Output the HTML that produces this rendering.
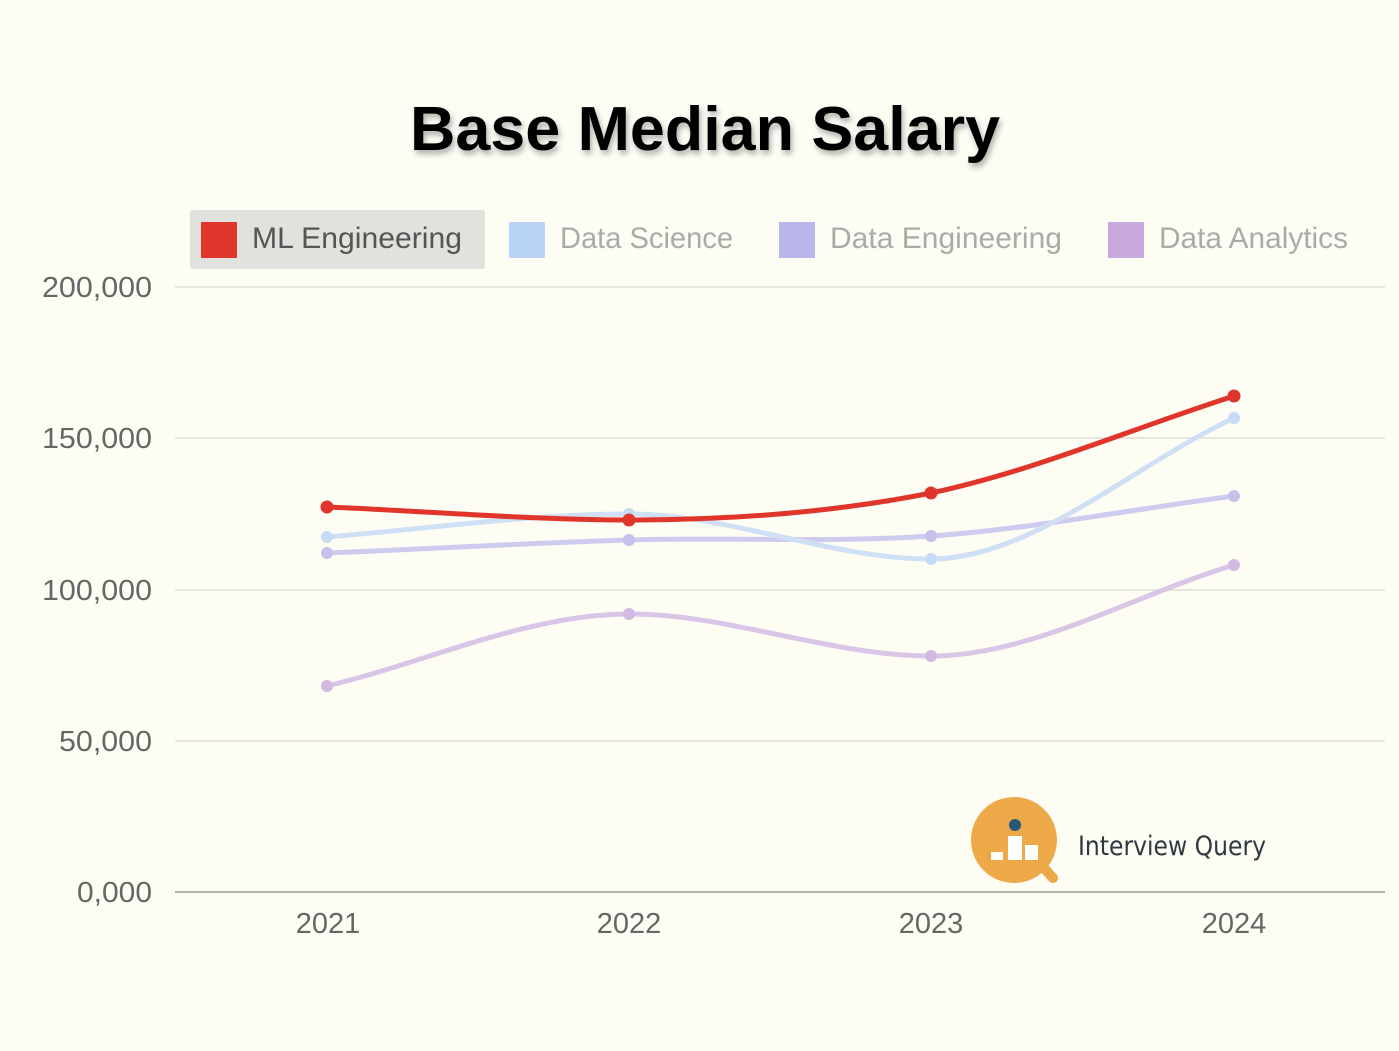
<!DOCTYPE html>
<html><head><meta charset="utf-8"><style>
html,body{margin:0;padding:0;background:#fdfdf4;}
svg{display:block;font-family:"Liberation Sans",sans-serif;}
</style></head><body>
<svg width="1399" height="1051" viewBox="0 0 1399 1051" xmlns="http://www.w3.org/2000/svg">
<defs><filter id="sh" x="-10%" y="-30%" width="120%" height="160%"><feDropShadow dx="2" dy="4" stdDeviation="3" flood-color="#000" flood-opacity="0.3"/></filter></defs>
<rect width="1399" height="1051" fill="#fdfdf4"/>
<text x="705" y="150" text-anchor="middle" font-size="62" font-weight="bold" fill="#000" filter="url(#sh)" textLength="590" lengthAdjust="spacingAndGlyphs">Base Median Salary</text>
<!-- legend -->
<rect x="190" y="210" width="295" height="59" rx="3" fill="#e0e3dd"/>
<rect x="201" y="222" width="36" height="36" fill="#e0352b"/>
<text x="252" y="248" font-size="30" fill="#555" textLength="210" lengthAdjust="spacingAndGlyphs">ML Engineering</text>
<rect x="509" y="222" width="36" height="36" fill="#b9d3f7"/>
<text x="560" y="248" font-size="30" fill="#aaa" textLength="173" lengthAdjust="spacingAndGlyphs">Data Science</text>
<rect x="779" y="222" width="36" height="36" fill="#b9b7ea"/>
<text x="830" y="248" font-size="30" fill="#aaa" textLength="232" lengthAdjust="spacingAndGlyphs">Data Engineering</text>
<rect x="1108" y="222" width="36" height="36" fill="#c8a9de"/>
<text x="1159" y="248" font-size="30" fill="#aaa" textLength="189" lengthAdjust="spacingAndGlyphs">Data Analytics</text>
<!-- grid -->
<g stroke="#d8d8d2" stroke-width="1.2">
<line x1="175" y1="287" x2="1385" y2="287"/>
<line x1="175" y1="438" x2="1385" y2="438"/>
<line x1="175" y1="590" x2="1385" y2="590"/>
<line x1="175" y1="741" x2="1385" y2="741"/>
</g>
<line x1="175" y1="892" x2="1385" y2="892" stroke="#999" stroke-width="1.5"/>
<g font-size="29" fill="#666" text-anchor="end">
<text x="152" y="297" textLength="110" lengthAdjust="spacingAndGlyphs">200,000</text>
<text x="152" y="448" textLength="110" lengthAdjust="spacingAndGlyphs">150,000</text>
<text x="152" y="600" textLength="110" lengthAdjust="spacingAndGlyphs">100,000</text>
<text x="152" y="751" textLength="93" lengthAdjust="spacingAndGlyphs">50,000</text>
<text x="152" y="902" textLength="75" lengthAdjust="spacingAndGlyphs">0,000</text>
</g>
<g font-size="29" fill="#666" text-anchor="middle">
<text x="328" y="933">2021</text><text x="629" y="933">2022</text><text x="931" y="933">2023</text><text x="1234" y="933">2024</text>
</g>
<!-- series -->
<g fill="none" stroke-width="5" stroke-linecap="round">
<path d="M327,686 C427,662 529,614 629,614 C729,614 831,656 931,656 C1031,656 1134,595 1234,565" stroke="#d9c6e6"/>
<path d="M327,553 C427,549 529,543 629,540 C729,537 831,543 931,536 C1031,529 1134,509 1234,496" stroke="#cdcbee"/>
<path d="M327,537 C427,529 529,514 629,514 C729,514 831,559 931,559 C1031,559 1134,465 1234,418" stroke="#cfe0f5"/>
</g>
<g fill="#d2b9e2"><circle cx="327" cy="686" r="6"/><circle cx="629" cy="614" r="6"/><circle cx="931" cy="656" r="6"/><circle cx="1234" cy="565" r="6"/></g>
<g fill="#c4c2ec"><circle cx="327" cy="553" r="6"/><circle cx="629" cy="540" r="6"/><circle cx="931" cy="536" r="6"/><circle cx="1234" cy="496" r="6"/></g>
<g fill="#c6dbf6"><circle cx="327" cy="537" r="6"/><circle cx="629" cy="514" r="6"/><circle cx="931" cy="559" r="6"/><circle cx="1234" cy="418" r="6"/></g>
<path d="M327,507 C427,511 529,520 629,520 C729,520 831,513 931,493 C1031,472 1134,428 1234,396" fill="none" stroke="#e0352b" stroke-width="5"/>
<g fill="#e0352b"><circle cx="327" cy="507" r="6.5"/><circle cx="629" cy="520" r="6.5"/><circle cx="931" cy="493" r="6.5"/><circle cx="1234" cy="396" r="6.5"/></g>
<!-- logo -->
<line x1="1035" y1="858" x2="1053" y2="878" stroke="#eaa945" stroke-width="10" stroke-linecap="round"/>
<circle cx="1014" cy="840" r="43" fill="#eda948"/>
<circle cx="1015" cy="825" r="6" fill="#245a78"/>
<rect x="991" y="852" width="12" height="8" fill="#fff"/>
<rect x="1008" y="836" width="14" height="24" fill="#fff"/>
<rect x="1025" y="845" width="13" height="15" fill="#fff"/>
<text x="1078" y="855" font-size="27" fill="#2e3a40" font-family="'DejaVu Sans Condensed','Liberation Sans Narrow',sans-serif" textLength="188" lengthAdjust="spacingAndGlyphs">Interview Query</text>
</svg>
</body></html>
